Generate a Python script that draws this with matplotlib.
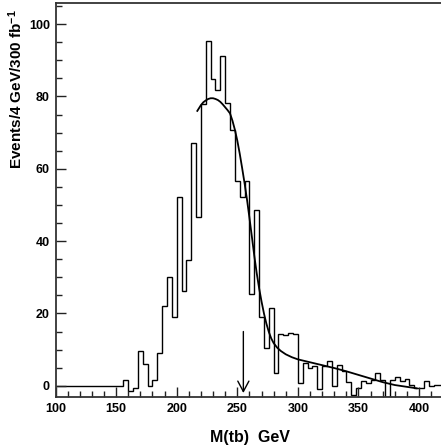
import numpy as np
import matplotlib
matplotlib.use('Agg')
import matplotlib.pyplot as plt
from matplotlib.ticker import MultipleLocator

plt.rcParams['font.family'] = ['Liberation Sans', 'DejaVu Sans']
plt.rcParams['font.weight'] = 'bold'
plt.rcParams['mathtext.fontset'] = 'custom'
plt.rcParams['mathtext.rm'] = 'Liberation Sans:bold'
plt.rcParams['mathtext.default'] = 'rm'

# histogram: 4 GeV bins starting at 100 GeV (background subtracted, so some bins < 0)
bin_start = 100
bin_width = 4
hist_vals = [0.0] * 14 + [
    1.6, -1.5, -0.5, 9.6, 6.0, 0.0, 1.6, 9.1, 22.0, 30.0,      # 156-196
    19.0, 52.3, 26.2, 34.7, 67.2, 46.7, 77.8, 95.4, 84.7, 81.7,  # 196-236
    91.2, 78.2, 70.7, 56.6, 52.1, 56.6, 25.5, 48.6, 19.1, 10.4,  # 236-276
    21.5, 3.5, 14.3, 14.0, 14.6, 14.3, 0.8, 6.3, 4.9, 5.6,       # 276-316
    -1.0, 5.6, 6.8, 0.0, 5.7, 4.1, 1.1, -2.6, -0.5, 1.2,         # 316-356
    0.7, 1.5, 3.6, 1.5, -3.0, 1.5, 2.3, 1.3, 1.9, 0.2,           # 356-396
    -0.7, -0.7, 1.2, -0.2, 0.3, 0.3,                             # 396-420
]

# fitted curve
fit_m = [217, 220, 222, 224, 226, 228, 230, 232, 234, 236, 238, 240, 242,
         244, 246, 248, 250, 252, 254, 256, 258, 260, 262, 264, 266, 268,
         270, 272, 274, 276, 278, 280, 283, 286, 290, 295, 300, 310, 320,
         330, 340, 350, 360, 370, 380, 390, 398]
fit_v = [76.0, 77.6, 78.4, 78.9, 79.3, 79.5, 79.5, 79.3, 79.0, 78.5, 77.8,
         77.0, 76.2, 75.3, 73.3, 70.8, 67.8, 64.2, 60.2, 56.0, 51.5, 46.5,
         41.3, 36.0, 31.2, 27.0, 23.3, 20.0, 17.2, 14.9, 13.1, 11.8, 10.5,
         9.6, 8.7, 7.9, 7.3, 6.5, 5.7, 4.9, 4.0, 3.0, 2.0, 1.0, 0.2, -0.3,
         -0.7]

# arrow marking the cut
arrow_m = 255
arrow_top = 15.0
arrow_tip = -2.0

edges = bin_start + bin_width * np.arange(len(hist_vals) + 1)

fig = plt.figure(figsize=(4.41, 4.47), dpi=100)
ax = fig.add_axes([0.1259, 0.1119, 0.8741, 0.8803])

ax.stairs(hist_vals, edges, baseline=None, color='black', lw=1.0)
ax.plot(fit_m, fit_v, color='black', lw=1.3)
ax.annotate('', xy=(arrow_m, arrow_tip), xytext=(arrow_m, arrow_top),
            arrowprops=dict(arrowstyle='->,head_length=0.75,head_width=0.4',
                            lw=1.0, color='black', shrinkA=0, shrinkB=0))

ax.set_xlim(100, 418.1)
ax.set_ylim(-3.1, 105.7)

ax.xaxis.set_major_locator(MultipleLocator(50))
ax.xaxis.set_minor_locator(MultipleLocator(10))
ax.yaxis.set_major_locator(MultipleLocator(20))
ax.yaxis.set_minor_locator(MultipleLocator(5))
ax.tick_params(which='both', direction='in', top=False, right=False,
               width=1.0, color='#222222', labelsize=9)
ax.tick_params(which='major', length=7, pad=4)
ax.tick_params(which='minor', length=4)

for side in ['left', 'bottom', 'top']:
    ax.spines[side].set_linewidth(1.3)
    ax.spines[side].set_color('#333333')
ax.spines['right'].set_visible(False)

ax.set_xlabel('M(tb)  GeV', fontsize=11.5, fontweight='bold')
ax.xaxis.set_label_coords(0.505, -0.085)
ax.set_ylabel('Events/4 GeV/300 fb$^{-1}$', fontsize=11, fontweight='bold')
ax.yaxis.set_label_coords(-0.078, 0.783)

plt.savefig('out.png', dpi=100)
